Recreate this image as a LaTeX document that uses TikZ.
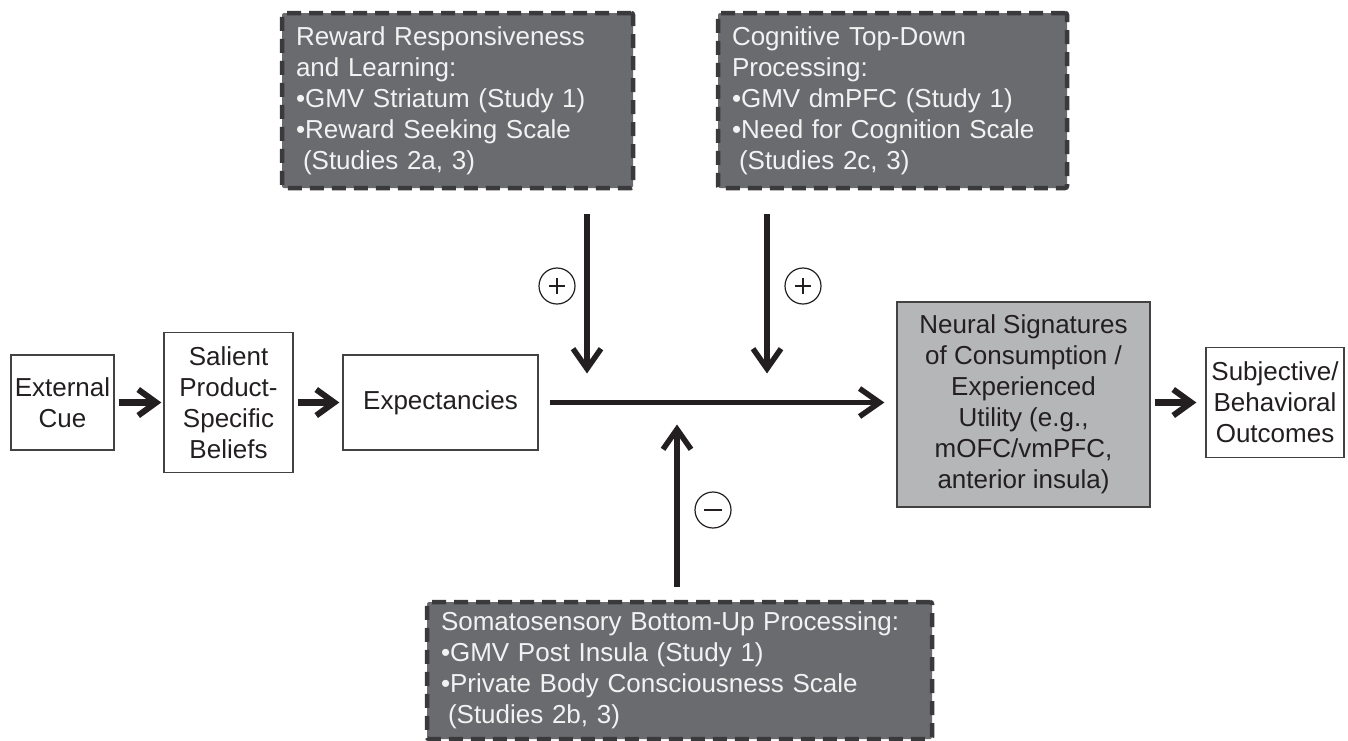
\documentclass[tikz,border=0pt]{standalone}
\usepackage{fontspec}
\setmainfont{Liberation Sans}
\usetikzlibrary{arrows.meta}
\definecolor{darkfill}{HTML}{6A6B6F}
\definecolor{darkedge}{HTML}{3A3A3C}
\definecolor{neufill}{HTML}{B5B6B8}
\definecolor{ink}{HTML}{231F20}
\definecolor{paletext}{HTML}{F2F2F2}
\tikzset{
  plainbox/.style={draw=ink!85, line width=1.3pt, inner sep=0pt, align=center,
    text=ink, font=\fontsize{26}{31}\selectfont},
  dashbox/.style={draw=darkedge, fill=darkfill, line width=4.5pt,
    dash pattern=on 14pt off 8pt, rounded corners=2pt, inner xsep=14pt, inner ysep=0pt,
    align=left, text=paletext, font=\fontsize{26}{31}\selectfont},
  arr/.style={draw=ink, line width=5.5pt,
    -{Straight Barb[length=20pt,width=28pt,line width=5.5pt]}},
  smallarr/.style={draw=ink, line width=6.5pt,
    -{Straight Barb[length=18pt,width=26pt,line width=6pt]}},
  sign/.style={circle, draw=ink, line width=1.2pt, minimum size=36pt, inner sep=0pt,
    text=ink},
  signbar/.style={draw=ink, line width=2.8pt},
}
\begin{document}
\begin{tikzpicture}[x=1pt,y=-1pt]
\useasboundingbox (0,0) rectangle (1348,740);
% main chain
\node[plainbox, minimum width=103pt, minimum height=95pt] (ext) at (62.5,402.5) {External\\Cue};
\node[plainbox, minimum width=129pt, minimum height=140pt] (sal) at (228.5,402.5) {Salient\\Product-\\Specific\\Beliefs};
\node[plainbox, minimum width=195pt, minimum height=95pt] (exp) at (440.5,402.5) {Expectancies};
\node[plainbox, fill=neufill, minimum width=253pt, minimum height=205pt] (neu) at (1023.5,404.5)
  {Neural Signatures\\of Consumption /\\Experienced\\Utility (e.g.,\\mOFC/vmPFC,\\anterior insula)};
\node[plainbox, minimum width=138pt, minimum height=110pt] (sub) at (1275,402.5) {Subjective/\\Behavioral\\Outcomes};
% moderator boxes
\node[dashbox, text width=323pt, minimum height=175pt] (rew) at (457.5,100.5)
  {Reward Responsiveness\\and Learning:\\•GMV Striatum (Study 1)\\•Reward Seeking Scale\\\hspace*{7pt}(Studies 2a, 3)};
\node[dashbox, text width=321pt, minimum height=175pt] (cog) at (892.5,100.5)
  {Cognitive Top-Down\\Processing:\\•GMV dmPFC (Study 1)\\•Need for Cognition Scale\\\hspace*{7pt}(Studies 2c, 3)};
\node[dashbox, text width=477pt, minimum height=137pt] (som) at (679.5,670.5)
  {Somatosensory Bottom-Up Processing:\\•GMV Post Insula (Study 1)\\•Private Body Consciousness Scale\\\hspace*{7pt}(Studies 2b, 3)};
% junction points on main line
\coordinate (j1) at (587,402.5);
\coordinate (j2) at (767,402.5);
\coordinate (j3) at (677,402.5);
% signs
\node[sign] (p1) at (557,286) {};
\node[sign] (p2) at (803,286) {};
\node[sign] (m1) at (713,510) {};
\draw[signbar] ([xshift=-8pt]p1.center) -- ([xshift=8pt]p1.center);
\draw[signbar] ([yshift=-8pt]p1.center) -- ([yshift=8pt]p1.center);
\draw[signbar] ([xshift=-8pt]p2.center) -- ([xshift=8pt]p2.center);
\draw[signbar] ([yshift=-8pt]p2.center) -- ([yshift=8pt]p2.center);
\draw[signbar, line width=2.2pt] ([xshift=-9pt]m1.center) -- ([xshift=9pt]m1.center);
% connectors
\draw[smallarr, shorten <=4pt, shorten >=2pt] (ext.east) -- (sal.west);
\draw[smallarr, shorten <=4pt, shorten >=3pt] (sal.east) -- (exp.west);
\draw[arr, shorten <=11pt, shorten >=12pt] (exp.east) -- (exp.east -| neu.west);
\draw[smallarr, shorten <=4pt, shorten >=9pt] (neu.east |- sub.west) -- (sub.west);
\draw[arr, shorten <=24pt, shorten >=29pt] (j1 |- rew.south) -- (j1);
\draw[arr, shorten <=24pt, shorten >=29pt] (j2 |- cog.south) -- (j2);
\draw[arr, shorten <=13pt, shorten >=22pt] (j3 |- som.north) -- (j3);
\end{tikzpicture}
\end{document}
